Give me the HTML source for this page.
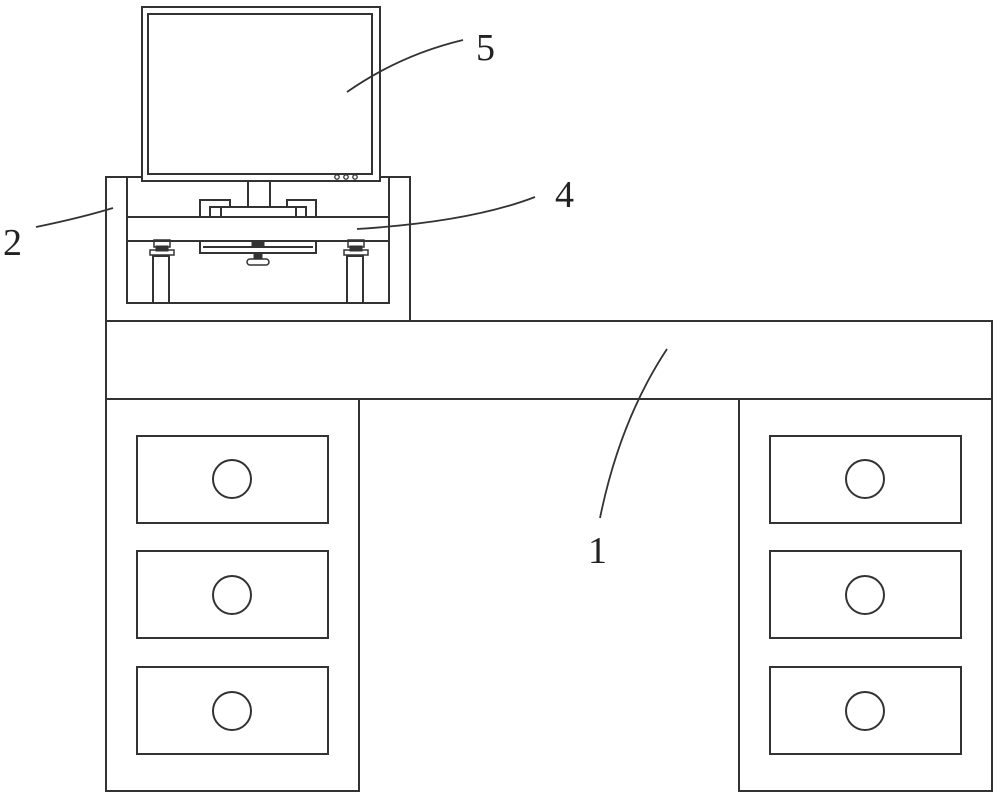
<!DOCTYPE html>
<html><head><style>html,body{margin:0;padding:0;background:#fff}svg{display:block}</style></head>
<body>
<svg width="1000" height="799" viewBox="0 0 1000 799" xmlns="http://www.w3.org/2000/svg">
<g fill="none" stroke="#333" stroke-width="2">
<!-- monitor -->
<rect x="142" y="7" width="238" height="174" fill="#fff"/>
<rect x="148" y="14" width="224" height="160"/>
<circle cx="337" cy="177" r="2.2" stroke-width="1.3"/>
<circle cx="346" cy="177" r="2.2" stroke-width="1.3"/>
<circle cx="355" cy="177" r="2.2" stroke-width="1.3"/>
<!-- stand box -->
<path d="M142 177 H106 V321 H410 V177 H380"/>
<path d="M127 177 V303 H389 V177"/>
<rect x="248" y="181" width="22" height="26"/>
<!-- brackets -->
<path d="M200 217 V200 H230 V207 H221 M210 217 V207 H221 V217 M221 207 H296 V217 M296 207 H287 V200 H316 V217 M306 217 V207 H296"/>
<rect x="127" y="217" width="262" height="24"/>
<!-- under plate -->
<path d="M200 241 V253 H316 V241 M203 247 H313"/>
<rect x="252" y="241" width="12" height="6" fill="#333" stroke-width="1"/>
<rect x="254" y="253" width="8" height="6" fill="#333" stroke-width="1"/>
<rect x="247" y="259" width="22" height="6" rx="3" stroke-width="1.5"/>
<!-- legs -->
<rect x="154" y="240" width="16" height="7" stroke-width="1.5"/>
<rect x="150" y="250" width="24" height="5" stroke-width="1.5"/>
<rect x="156" y="246" width="12" height="5" fill="#333" stroke-width="1"/>
<rect x="153" y="256" width="16" height="47"/>
<rect x="348" y="240" width="16" height="7" stroke-width="1.5"/>
<rect x="344" y="250" width="24" height="5" stroke-width="1.5"/>
<rect x="350" y="246" width="12" height="5" fill="#333" stroke-width="1"/>
<rect x="347" y="256" width="16" height="47"/>
<!-- desk -->
<rect x="106" y="321" width="886" height="78"/>
<rect x="106" y="399" width="253" height="392"/>
<rect x="739" y="399" width="253" height="392"/>
<rect x="137" y="436" width="191" height="87"/>
<rect x="137" y="551" width="191" height="87"/>
<rect x="137" y="667" width="191" height="87"/>
<rect x="770" y="436" width="191" height="87"/>
<rect x="770" y="551" width="191" height="87"/>
<rect x="770" y="667" width="191" height="87"/>
<circle cx="232" cy="479" r="19"/><circle cx="232" cy="595" r="19"/><circle cx="232" cy="711" r="19"/>
<circle cx="865" cy="479" r="19"/><circle cx="865" cy="595" r="19"/><circle cx="865" cy="711" r="19"/>
<!-- leaders -->
<path d="M347 92 Q400 55 463 40" stroke-width="1.8"/>
<path d="M357 229 Q470 222 535 197" stroke-width="1.8"/>
<path d="M36 227 Q80 218 113 208" stroke-width="1.8"/>
<path d="M667 349 Q620 420 600 518" stroke-width="1.8"/>
</g>
<g font-family="Liberation Serif, serif" font-size="38" fill="#222">
<text x="476" y="60">5</text>
<text x="555" y="207">4</text>
<text x="3" y="255">2</text>
<text x="588" y="563">1</text>
</g>
</svg>
</body></html>
